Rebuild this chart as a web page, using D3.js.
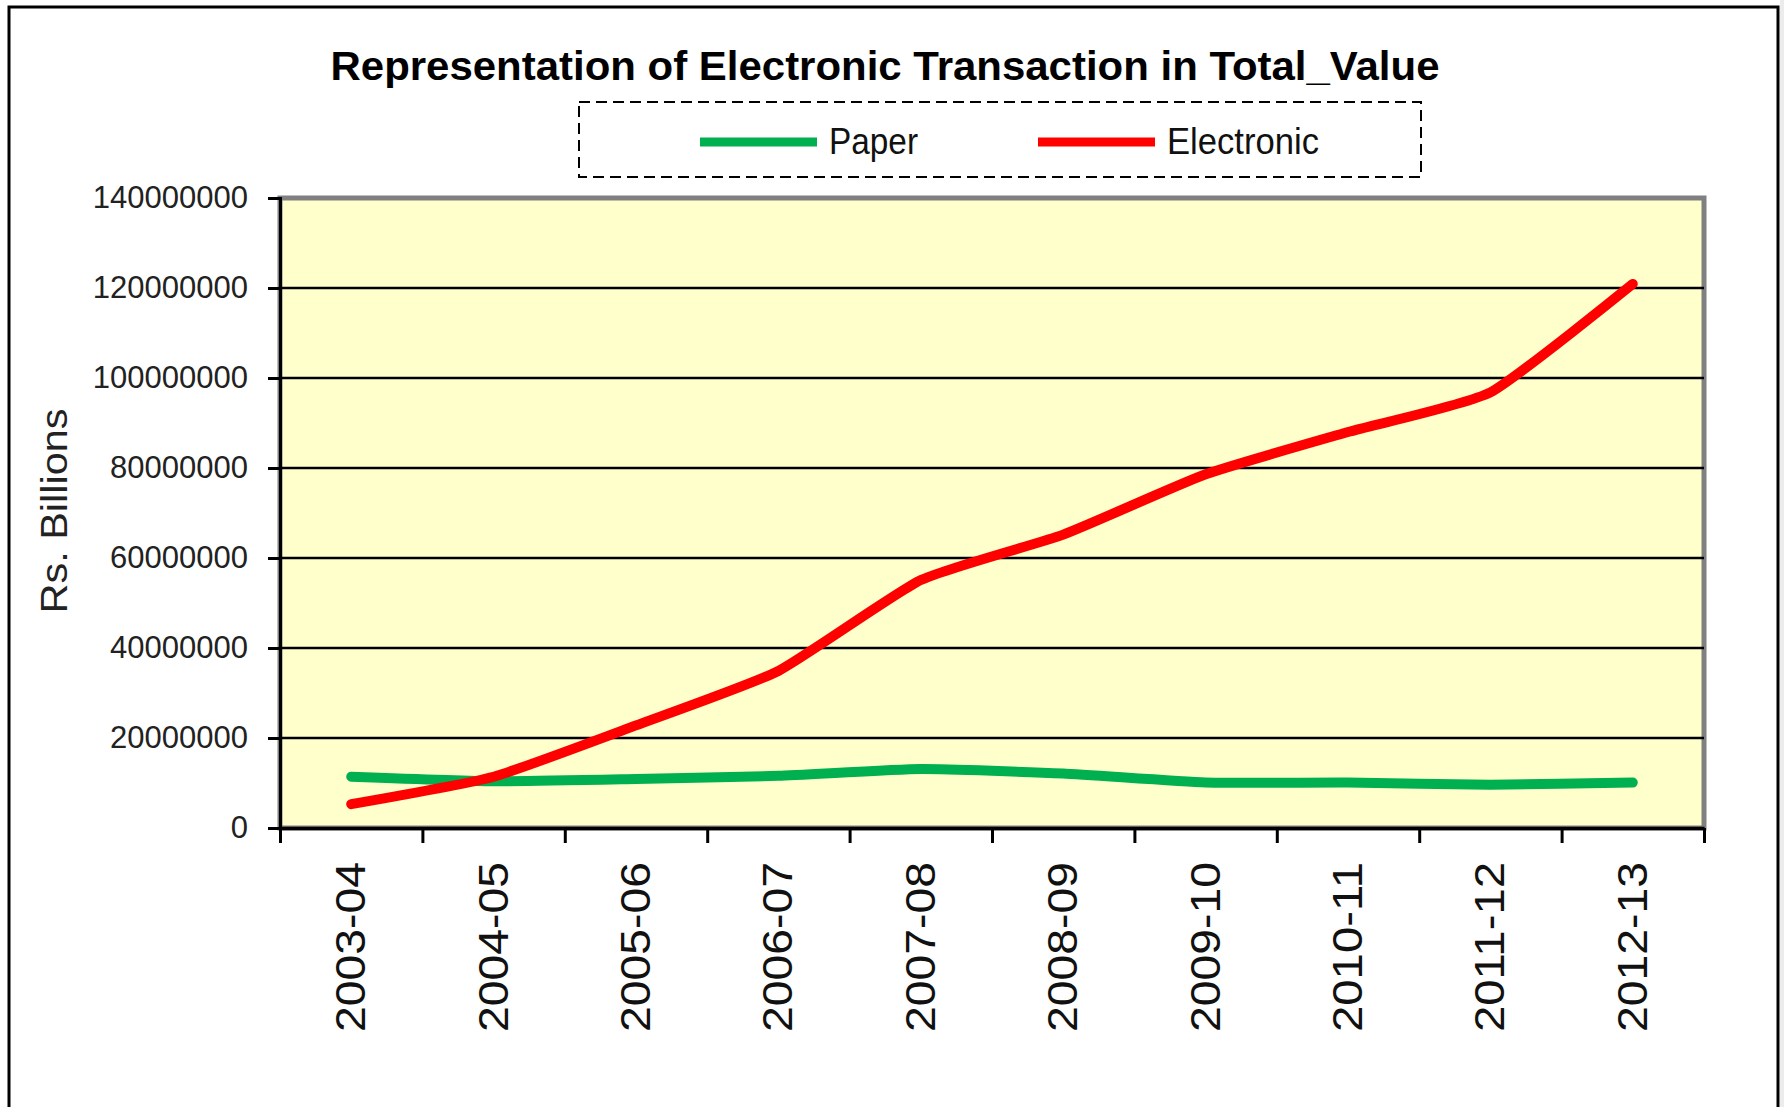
<!DOCTYPE html>
<html>
<head>
<meta charset="utf-8">
<script src="https://cdn.jsdelivr.net/npm/d3@7"></script>
<style>
  html, body { margin: 0; padding: 0; background: #fff; }
  svg { display: block; font-family: "Liberation Sans", Arial, sans-serif; }
</style>
</head>
<body>
<svg id="viz" width="1784" height="1107"></svg>
<script>
"use strict";
// values (Rs. Billions)
const years = ["2003-04", "2004-05", "2005-06", "2006-07", "2007-08", "2008-09", "2009-10", "2010-11", "2011-12", "2012-13"];
const paper = [11400000, 10400000, 10900000, 11600000, 13100000, 12100000, 10100000, 10100000, 9600000, 10100000];
const electronic = [5300000, 11400000, 22800000, 34900000, 55100000, 65200000, 78600000, 88000000, 96800000, 120900000];
const yTicks = [0, 20000000, 40000000, 60000000, 80000000, 100000000, 120000000, 140000000];
const seriesNames = ["Paper", "Electronic"];
const seriesColors = ["#00b050", "#ff0000"];

const svg = d3.select("#viz");
const margin = { top: 198, left: 280, right: 80, bottom: 279 };
const w = 1784, h = 1107;

// outer frame
svg.append("rect").attr("x", 1780).attr("y", 0).attr("width", 4).attr("height", h).attr("fill", "#ececec");
svg.append("rect")
    .attr("x", 9).attr("y", 7).attr("width", 1769).attr("height", 1130)
    .attr("fill", "none").attr("stroke", "#000").attr("stroke-width", 3);

let x = d3.scaleBand().domain(years).range([margin.left, w - margin.right]),
    xEdge = d3.scaleLinear().domain([0, years.length]).range([margin.left, w - margin.right]),
    y = d3.scaleLinear().domain([0, 140000000]).range([h - margin.bottom, margin.top]);

// plot area
svg.append("rect")
    .attr("x", margin.left).attr("y", margin.top)
    .attr("width", w - margin.right - margin.left).attr("height", y(0) - margin.top)
    .attr("fill", "#ffffcc").attr("stroke", "#808080").attr("stroke-width", 5);

// gridlines
svg.append("g").selectAll("line")
    .data(yTicks.filter(d => d > 0 && d < 140000000))
    .enter().append("line")
    .attr("x1", margin.left).attr("x2", w - margin.right)
    .attr("y1", d => y(d)).attr("y2", d => y(d))
    .attr("stroke", "#000").attr("stroke-width", 2.5);

// y axis
let yAxis = svg.append("g")
    .attr("transform", `translate(${margin.left}, 0)`)
    .call(d3.axisLeft(y).tickValues(yTicks).tickFormat(d3.format("d")).tickSize(12).tickPadding(20));
yAxis.select(".domain").attr("stroke-width", 3);
yAxis.selectAll(".tick line").attr("stroke-width", 3);
yAxis.selectAll("text").attr("font-size", 31).attr("fill", "#222").attr("font-family", "Liberation Sans, Arial");

// x axis ticks on category edges
let xAxis = svg.append("g")
    .attr("transform", `translate(0, ${y(0)})`)
    .call(d3.axisBottom(xEdge).tickValues(d3.range(years.length + 1)).tickFormat("").tickSize(15).tickSizeOuter(0));
xAxis.select(".domain").attr("stroke-width", 3.5);
xAxis.selectAll(".tick line").attr("stroke-width", 3);

// x labels, rotated
svg.append("g").selectAll("text")
    .data(years)
    .enter().append("text")
    .attr("transform", d => `translate(${x(d) + x.bandwidth() / 2 + 14}, 862) rotate(-90)`)
    .attr("text-anchor", "end")
    .attr("font-size", 42)
    .attr("textLength", 170)
    .attr("lengthAdjust", "spacingAndGlyphs")
    .attr("fill", "#111")
    .text(d => d);

// y title
svg.append("text")
    .attr("transform", "translate(67, 511) rotate(-90)")
    .attr("text-anchor", "middle")
    .attr("font-size", 37)
    .attr("textLength", 205)
    .attr("lengthAdjust", "spacingAndGlyphs")
    .attr("fill", "#222")
    .text("Rs. Billions");

// title
svg.append("text")
    .attr("x", 885).attr("y", 80)
    .attr("text-anchor", "middle")
    .attr("font-size", 40)
    .attr("font-weight", "bold")
    .attr("textLength", 1109)
    .attr("lengthAdjust", "spacingAndGlyphs")
    .text("Representation of Electronic Transaction in Total_Value");

// lines
let line = d3.line()
    .x((d, i) => x(years[i]) + x.bandwidth() / 2)
    .y(d => y(d))
    .curve(d3.curveCardinal.tension(0.5));

[paper, electronic].forEach((s, k) => {
    svg.append("path")
        .attr("d", line(s))
        .attr("fill", "none")
        .attr("stroke", seriesColors[k])
        .attr("stroke-width", 10)
        .attr("stroke-linecap", "round")
        .attr("stroke-linejoin", "round");
});

// legend
let legend = svg.append("g");
legend.append("rect")
    .attr("x", 579).attr("y", 102).attr("width", 842).attr("height", 75)
    .attr("fill", "#fff").attr("stroke", "#000").attr("stroke-width", 2)
    .attr("stroke-dasharray", "11,6");
const legendX = [700, 1038], legendTextLen = [89, 152];
seriesNames.forEach((n, k) => {
    legend.append("line")
        .attr("x1", legendX[k]).attr("x2", legendX[k] + 117)
        .attr("y1", 142).attr("y2", 142)
        .attr("stroke", seriesColors[k]).attr("stroke-width", 9);
    legend.append("text")
        .attr("x", legendX[k] + 129).attr("y", 154)
        .attr("font-size", 36)
        .attr("textLength", legendTextLen[k])
        .attr("lengthAdjust", "spacingAndGlyphs")
        .attr("fill", "#111")
        .text(n);
});
</script>
</body>
</html>
